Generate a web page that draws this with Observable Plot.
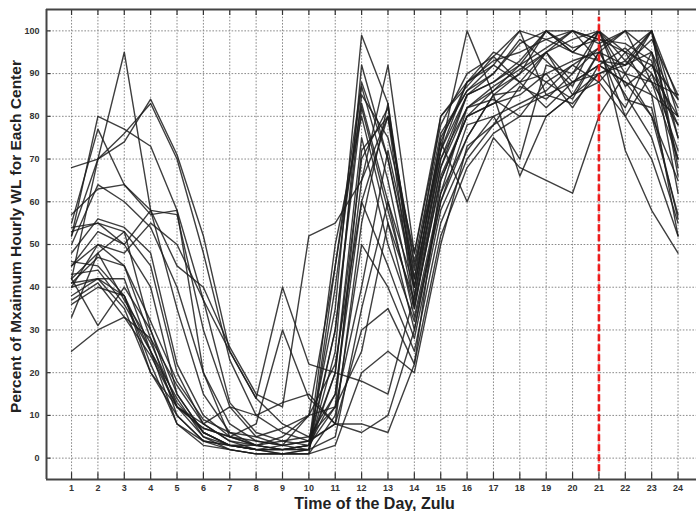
<!DOCTYPE html>
<html>
<head>
<meta charset="utf-8">
<script src="https://cdn.jsdelivr.net/npm/d3@7"></script>
<script src="https://cdn.jsdelivr.net/npm/@observablehq/plot@0.6"></script>
<style>
  html, body { margin: 0; padding: 0; background: #fff; }
  #chart svg { display: block; font-family: "Liberation Sans", Arial, sans-serif; }
</style>
</head>
<body>
<div id="chart"></div>
<script>
const hours = [1,2,3,4,5,6,7,8,9,10,11,12,13,14,15,16,17,18,19,20,21,22,23,24];
const xTicks = [1,2,3,4,5,6,7,8,9,10,11,12,13,14,15,16,17,18,19,20,21,22,23,24];
const yTicks = [0,10,20,30,40,50,60,70,80,90,100];
const markerHour = 21;
const xLabel = "Time of the Day, Zulu";
const yLabel = "Percent of Mxaimum Hourly WL for Each Center";

const center01 = [52, 70, 95, 58, 35, 15, 6, 3, 2, 3, 20, 70, 82, 40, 75, 86, 90, 97, 100, 95, 100, 93, 100, 80];
const center02 = [42, 70, 74, 84, 71, 52, 25, 14, 8, 5, 15, 65, 80, 35, 68, 85, 88, 93, 100, 96, 98, 95, 92, 84];
const center03 = [68, 70, 76, 83, 70, 48, 23, 10, 6, 4, 8, 55, 83, 38, 70, 82, 87, 91, 95, 100, 97, 100, 95, 75];
const center04 = [52, 80, 77, 73, 58, 37, 13, 6, 4, 3, 12, 72, 80, 45, 72, 88, 92, 88, 95, 98, 100, 90, 88, 70];
const center05 = [55, 77, 64, 58, 57, 30, 12, 5, 3, 2, 25, 92, 70, 42, 80, 87, 94, 88, 90, 93, 95, 92, 100, 68];
const center06 = [57, 63, 64, 57, 58, 20, 5, 3, 2, 3, 30, 85, 75, 48, 78, 90, 94, 100, 85, 88, 92, 96, 90, 72];
const center07 = [50, 64, 60, 54, 40, 20, 8, 4, 3, 4, 35, 99, 83, 42, 72, 85, 90, 98, 93, 87, 100, 84, 82, 56];
const center08 = [48, 56, 54, 48, 22, 10, 5, 3, 2, 2, 40, 87, 65, 36, 65, 80, 83, 85, 90, 82, 92, 88, 80, 65];
const center09 = [53, 55, 53, 45, 20, 8, 4, 2, 1, 1, 45, 83, 60, 33, 62, 82, 84, 80, 88, 84, 95, 85, 75, 55];
const center10 = [54, 55, 50, 40, 15, 6, 3, 2, 2, 3, 50, 80, 55, 30, 60, 78, 80, 70, 92, 90, 96, 100, 88, 78];
const center11 = [42, 48, 53, 30, 12, 5, 2, 1, 1, 2, 30, 82, 58, 35, 66, 80, 86, 90, 100, 95, 93, 90, 100, 84];
const center12 = [41, 47, 45, 28, 10, 4, 2, 1, 1, 2, 20, 75, 50, 32, 60, 75, 85, 86, 95, 88, 90, 82, 95, 82];
const center13 = [41, 42, 42, 25, 8, 4, 3, 2, 2, 3, 15, 60, 45, 28, 58, 72, 80, 83, 86, 92, 88, 95, 85, 80];
const center14 = [40, 42, 38, 22, 8, 3, 2, 1, 1, 1, 10, 50, 40, 25, 55, 70, 78, 82, 85, 83, 90, 93, 88, 85];
const center15 = [38, 42, 35, 20, 10, 4, 3, 2, 3, 4, 8, 30, 35, 22, 52, 68, 76, 80, 80, 85, 88, 80, 90, 80];
const center16 = [33, 48, 37, 27, 13, 6, 3, 2, 2, 2, 5, 35, 60, 40, 70, 85, 88, 92, 96, 100, 98, 97, 93, 70];
const center17 = [25, 30, 33, 28, 17, 8, 4, 3, 5, 10, 22, 60, 80, 46, 76, 86, 92, 100, 98, 95, 100, 95, 100, 75];
const center18 = [42, 31, 40, 30, 15, 6, 3, 3, 4, 5, 12, 40, 72, 44, 74, 60, 75, 68, 65, 62, 80, 90, 80, 57];
const center19 = [40, 50, 48, 55, 50, 37, 25, 14, 40, 22, 20, 18, 15, 38, 72, 100, 85, 66, 80, 85, 95, 100, 100, 66];
const center20 = [45, 53, 50, 58, 45, 40, 26, 15, 12, 52, 55, 65, 92, 48, 80, 88, 95, 92, 100, 100, 98, 72, 58, 48];
const center21 = [37, 41, 33, 24, 12, 8, 12, 10, 13, 15, 8, 8, 6, 22, 65, 80, 83, 88, 82, 88, 92, 88, 85, 52];
const center22 = [36, 40, 38, 25, 14, 5, 3, 2, 1, 1, 3, 20, 25, 20, 50, 73, 78, 87, 84, 90, 100, 87, 92, 78];
const center23 = [46, 45, 38, 20, 12, 7, 5, 4, 3, 10, 45, 88, 70, 40, 74, 88, 93, 95, 98, 100, 93, 92, 98, 85];
const center24 = [43, 44, 36, 25, 12, 7, 5, 8, 30, 14, 8, 6, 10, 30, 62, 75, 85, 90, 95, 85, 90, 92, 95, 62];
const center25 = [45, 50, 45, 32, 18, 9, 6, 5, 7, 10, 12, 25, 55, 37, 68, 82, 86, 92, 88, 92, 96, 80, 70, 52];

const centers = [center01, center02, center03, center04, center05, center06, center07, center08, center09,
  center10, center11, center12, center13, center14, center15, center16, center17, center18, center19,
  center20, center21, center22, center23, center24, center25];

const rows = centers.flatMap((vals, ci) => vals.map((v, i) => ({center: ci, hour: hours[i], pct: v})));

const X0 = 0.05, X1 = 24.7, Y0 = -5, Y1 = 105;
const gridStyle = {stroke: "#8a8a8a", strokeWidth: 1, strokeDasharray: "1.6,1.6"};

const chart = Plot.plot({
  width: 696,
  height: 511,
  marginLeft: 46,
  marginRight: 0,
  marginTop: 9,
  marginBottom: 32,
  style: {fontFamily: "'Liberation Sans', Arial, sans-serif", background: "#fff"},
  x: {domain: [X0, X1], ticks: xTicks, tickSize: 0, tickPadding: 5, tickFormat: d => String(d), label: null},
  y: {domain: [Y0, Y1], ticks: yTicks, tickSize: 0, tickPadding: 7, tickFormat: d => String(d), label: null},
  marks: [
    Plot.ruleX(xTicks, {x: d => d, y1: Y0, y2: Y1, ...gridStyle}),
    Plot.ruleY(yTicks, {y: d => d, x1: X0, x2: X1, ...gridStyle}),
    Plot.line(rows, {x: "hour", y: "pct", z: "center", stroke: "#1c1c1c", strokeWidth: 1.4, strokeOpacity: 0.85, curve: "linear"}),
    Plot.ruleX([markerHour], {x: d => d, y1: -3.2, y2: 103.2, stroke: "#ee1c1c", strokeWidth: 2.6, strokeDasharray: "7,3"}),
    // inward ticks
    Plot.ruleX(xTicks, {x: d => d, y1: Y1, y2: Y1 - 1.4, stroke: "#333", strokeWidth: 1.2}),
    Plot.ruleX(xTicks, {x: d => d, y1: Y0, y2: Y0 + 1.6, stroke: "#333", strokeWidth: 1.2}),
    Plot.ruleY(yTicks, {y: d => d, x1: X0, x2: X0 + 0.17, stroke: "#333", strokeWidth: 1.2}),
    // frame (left, top, bottom)
    Plot.ruleX([X0], {x: d => d, y1: Y0, y2: Y1, stroke: "#444", strokeWidth: 2}),
    Plot.ruleY([Y0, Y1], {y: d => d, x1: X0, x2: X1, stroke: "#444", strokeWidth: 2}),
    Plot.axisX({ticks: xTicks, tickSize: 0, tickPadding: 5, fontSize: 9, fontWeight: "bold", fill: "#333", label: null}),
    Plot.axisY({ticks: yTicks, tickSize: 0, tickPadding: 7, fontSize: 9, fontWeight: "bold", fill: "#333", label: null}),
    Plot.text([xLabel], {text: d => d, frameAnchor: "bottom", textAnchor: "middle", lineAnchor: "middle", dy: 24, dx: 3, fontSize: 16, fontWeight: "bold", fill: "#222"}),
    Plot.text([yLabel], {text: d => d, frameAnchor: "left", textAnchor: "middle", lineAnchor: "middle", dx: -30, dy: -8, rotate: -90, fontSize: 15.5, fontWeight: "bold", fill: "#222"})
  ]
});
document.getElementById("chart").appendChild(chart);
</script>
</body>
</html>
